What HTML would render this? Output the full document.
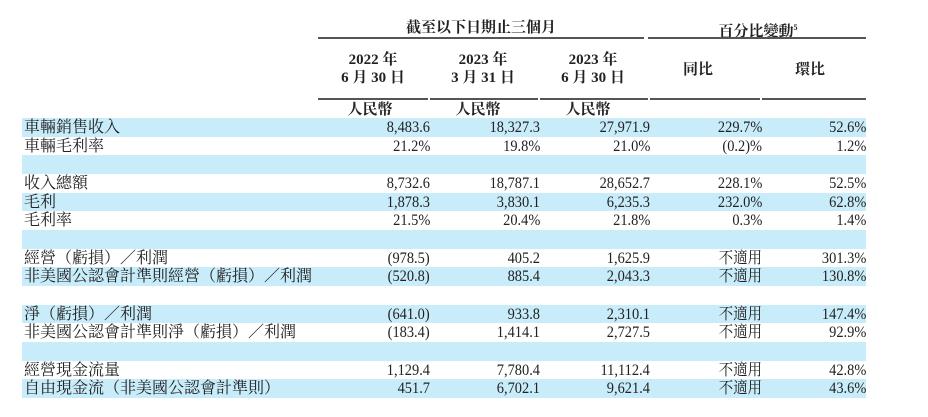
<!DOCTYPE html>
<html><head><meta charset="utf-8"><style>
body{margin:0;width:928px;height:417px;background:#fff;position:relative;overflow:hidden;font-family:"Liberation Serif","Noto Serif CJK SC","Noto Sans CJK TC",serif;color:#222}
.a{position:absolute;white-space:nowrap}
.h{font-weight:bold;font-size:15px;text-align:center;line-height:18px}
.ln{position:absolute;height:2px;background:#555}
.row{position:absolute;left:22px;width:844px;height:19px;font-size:16px;line-height:19px}
.row span{position:absolute;top:0}
.lab{left:2px}
.n{text-align:right;transform:scaleX(0.9);transform-origin:right center}
</style></head><body>
<div class="a h" style="left:318px;width:326px;top:19px">截至以下日期止三個月</div>
<div class="a h" style="left:650px;width:216px;top:19px">百分比變動<sup style="font-size:8px">5</sup></div>
<div class="ln" style="left:318px;width:326px;top:37px"></div>
<div class="ln" style="left:648px;width:218px;top:37px"></div>
<div class="a h" style="left:318px;width:110px;top:51px">2022 年<br>6 月 30 日</div>
<div class="a h" style="left:428px;width:110px;top:51px">2023 年<br>3 月 31 日</div>
<div class="a h" style="left:538px;width:110px;top:51px">2023 年<br>6 月 30 日</div>
<div class="a h" style="left:650px;width:96px;top:61px">同比</div>
<div class="a h" style="left:762px;width:96px;top:61px">環比</div>
<div class="ln" style="left:318px;width:110px;top:98px"></div>
<div class="ln" style="left:430px;width:108px;top:98px"></div>
<div class="ln" style="left:540px;width:108px;top:98px"></div>
<div class="ln" style="left:650px;width:110px;top:98px"></div>
<div class="ln" style="left:762px;width:104px;top:98px"></div>
<div class="a h" style="left:340px;width:60px;top:101px">人民幣</div>
<div class="a h" style="left:448px;width:60px;top:101px">人民幣</div>
<div class="a h" style="left:558px;width:60px;top:101px">人民幣</div>
<div id="rows"></div>
<script>
const labels=["車輛銷售收入","車輛毛利率","","收入總額","毛利","毛利率","","經營（虧損）／利潤","非美國公認會計準則經營（虧損）／利潤","","淨（虧損）／利潤","非美國公認會計準則淨（虧損）／利潤","","經營現金流量","自由現金流（非美國公認會計準則）"];
const c1=["8,483.6","21.2%","","8,732.6","1,878.3","21.5%","","(978.5)","(520.8)","","(641.0)","(183.4)","","1,129.4","451.7"];
const c2=["18,327.3","19.8%","","18,787.1","3,830.1","20.4%","","405.2","885.4","","933.8","1,414.1","","7,780.4","6,702.1"];
const c3=["27,971.9","21.0%","","28,652.7","6,235.3","21.8%","","1,625.9","2,043.3","","2,310.1","2,727.5","","11,112.4","9,621.4"];
const c4=["229.7%","(0.2)%","","228.1%","232.0%","0.3%","","不適用","不適用","","不適用","不適用","","不適用","不適用"];
const c5=["52.6%","1.2%","","52.5%","62.8%","1.4%","","301.3%","130.8%","","147.4%","92.9%","","42.8%","43.6%"];
const rights=[408,518,628,740,844];
const root=document.getElementById('rows');
labels.forEach((l,i)=>{
 const r=document.createElement('div');
 r.className='row';
 
 
 r.style.top=(118+i*18.67)+'px';
 r.style.background=i%2===0?'#c8ecfa':'#fff';
 const s=document.createElement('span');s.className='lab';s.textContent=l;
 
 
 r.appendChild(s);
 [c1,c2,c3,c4,c5].forEach((c,j)=>{
  const v=document.createElement('span');v.className='n';v.textContent=c[i];
  
  
  v.style.right=(844-rights[j])+'px';
  r.appendChild(v);
 });
 root.appendChild(r);
});
</script>
</body></html>
